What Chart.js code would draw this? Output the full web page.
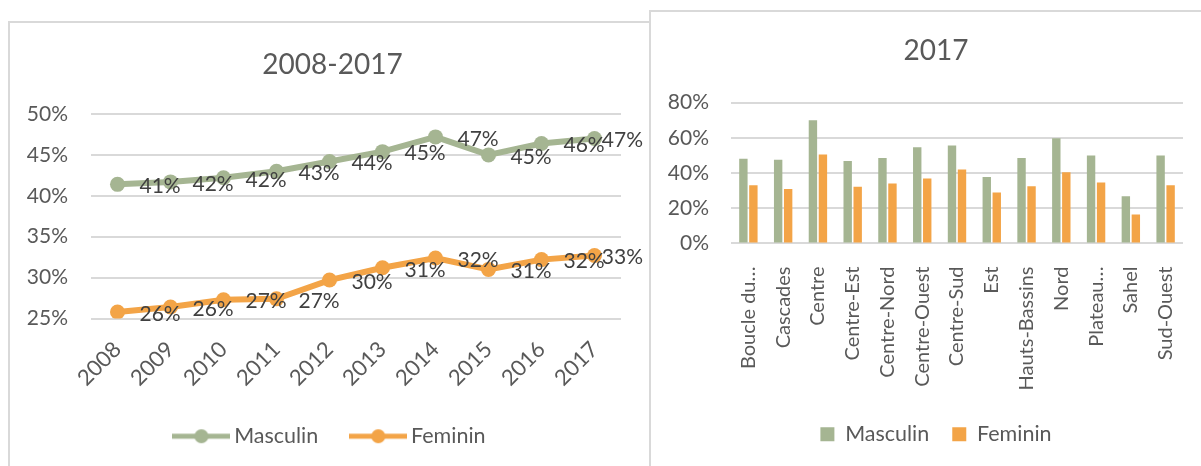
<!DOCTYPE html>
<html>
<head>
<meta charset="utf-8">
<script src="https://cdn.jsdelivr.net/npm/chart.js@4/dist/chart.umd.min.js"></script>
<style>
  html, body { margin: 0; padding: 0; background: #fff; overflow: hidden; }
  body { width: 1201px; height: 466px; position: relative; }
  .box { position: absolute; border: 2px solid #d9d9d9; box-sizing: border-box; background: #fff; }
  #boxLeft { left: 8px; top: 21px; width: 643px; height: 470px; }
  #boxRight { left: 649px; top: 10px; width: 600px; height: 480px; }
  canvas { display: block; }
</style>
</head>
<body>
<div class="box" id="boxLeft"><canvas id="lineChart" width="645" height="443"></canvas></div>
<div class="box" id="boxRight"><canvas id="barChart" width="570" height="454"></canvas></div>
<script>
// left chart: 2008-2017, taux en %
const years = ["2008", "2009", "2010", "2011", "2012", "2013", "2014", "2015", "2016", "2017"];
const masculinYears = [41.4, 41.7, 42.2, 43.0, 44.2, 45.4, 47.2, 45.0, 46.4, 47.0];
const femininYears = [25.8, 26.4, 27.3, 27.4, 29.7, 31.2, 32.4, 31.0, 32.2, 32.7];

// right chart: 2017 par région
const regions = ["Boucle du Mouhoun", "Cascades", "Centre", "Centre-Est", "Centre-Nord", "Centre-Ouest",
  "Centre-Sud", "Est", "Hauts-Bassins", "Nord", "Plateau Central", "Sahel", "Sud-Ouest"];
const masculin2017 = [48.1, 47.5, 70.0, 46.9, 48.6, 54.6, 55.6, 37.8, 48.6, 59.7, 49.9, 26.8, 49.9];
const feminin2017 = [33.1, 31.0, 50.5, 32.2, 34.0, 36.9, 42.0, 28.9, 32.5, 40.5, 34.6, 16.5, 33.1];

const GREEN = "#a5b592";
const ORANGE = "#f3a447";
const GRID = "#d9d9d9";
const TEXT = "#595959";

Chart.defaults.font.family = "Lato";
Chart.defaults.color = TEXT;
Chart.defaults.animation = false;

// legend marker: line with a dot, like the series
function lineMarker(color) {
  const c = document.createElement("canvas");
  c.width = 58;
  c.height = 16;
  const ctx = c.getContext("2d");
  ctx.strokeStyle = color;
  ctx.lineWidth = 5;
  ctx.beginPath();
  ctx.moveTo(0, 8);
  ctx.lineTo(58, 8);
  ctx.stroke();
  ctx.fillStyle = color;
  ctx.beginPath();
  ctx.arc(29, 8, 7, 0, Math.PI * 2);
  ctx.fill();
  return c;
}

// empty axis on the right, only to leave room like the original plot area
function spacer(width) {
  return {
    type: "linear",
    position: "right",
    grid: { display: false },
    border: { display: false },
    ticks: { display: false },
    afterFit(scale) { scale.width = width; },
  };
}

// value labels to the right of each point
const pointLabels = {
  id: "pointLabels",
  afterDatasetsDraw(chart) {
    const ctx = chart.ctx;
    const maxX = chart.chartArea.right + 22;
    ctx.save();
    ctx.font = "21px Lato";
    ctx.fillStyle = "#404040";
    ctx.textBaseline = "middle";
    ctx.textAlign = "left";
    chart.data.datasets.forEach((ds, i) => {
      chart.getDatasetMeta(i).data.forEach((pt, j) => {
        const txt = Math.round(ds.data[j]) + "%";
        const w = ctx.measureText(txt).width;
        let x = pt.x + 22;
        if (x + w > maxX) x = maxX - w;
        ctx.fillText(txt, x, pt.y + 2);
      });
    });
    ctx.restore();
  },
};

new Chart(document.getElementById("lineChart"), {
  type: "line",
  data: {
    labels: years,
    datasets: [
      {
        label: "Masculin",
        data: masculinYears,
        borderColor: GREEN,
        backgroundColor: GREEN,
        borderWidth: 6,
        pointRadius: 7.5,
        pointBorderWidth: 0,
      },
      {
        label: "Feminin",
        data: femininYears,
        borderColor: ORANGE,
        backgroundColor: ORANGE,
        borderWidth: 6,
        pointRadius: 7.5,
        pointBorderWidth: 0,
      },
    ],
  },
  options: {
    responsive: false,
    devicePixelRatio: 1,
    layout: { padding: { top: 0, right: 0, bottom: 9, left: 0 } },
    plugins: {
      title: {
        display: true,
        text: "2008-2017",
        font: { size: 28, weight: "normal" },
        padding: { top: 25, bottom: 32.4 },
      },
      legend: {
        position: "bottom",
        labels: {
          usePointStyle: true,
          pointStyleWidth: 44,
          padding: 38,
          font: { size: 21.5 },
          generateLabels(chart) {
            return chart.data.datasets.map((ds, i) => ({
              text: ds.label,
              pointStyle: lineMarker(ds.borderColor),
              fillStyle: ds.borderColor,
              strokeStyle: ds.borderColor,
              lineWidth: 0,
              fontColor: TEXT,
              datasetIndex: i,
            }));
          },
        },
      },
      tooltip: { enabled: false },
    },
    scales: {
      x: {
        offset: true,
        grid: { display: false },
        border: { display: false },
        ticks: { font: { size: 22 }, maxRotation: 45, minRotation: 45, padding: 10 },
        afterFit(scale) { scale.height = 69; },
      },
      y: {
        min: 25,
        max: 50,
        grid: { color: GRID, lineWidth: 2, drawTicks: false },
        border: { display: false },
        ticks: { stepSize: 5, font: { size: 21 }, padding: 23, callback: (v) => v + "%" },
        afterFit(scale) { scale.width = 81; },
      },
      yRight: spacer(34),
    },
  },
  plugins: [pointLabels],
});

new Chart(document.getElementById("barChart"), {
  type: "bar",
  data: {
    labels: regions,
    datasets: [
      { label: "Masculin", data: masculin2017, backgroundColor: GREEN },
      { label: "Feminin", data: feminin2017, backgroundColor: ORANGE },
    ],
  },
  options: {
    responsive: false,
    devicePixelRatio: 1,
    categoryPercentage: 0.575,
    barPercentage: 0.84,
    layout: { padding: { top: 0, right: 0, bottom: 11, left: 0 } },
    plugins: {
      title: {
        display: true,
        text: "2017",
        font: { size: 28, weight: "normal" },
        padding: { top: 22, bottom: 35 },
      },
      legend: {
        position: "bottom",
        labels: { boxWidth: 14, boxHeight: 14, padding: 23, font: { size: 21.5 } },
      },
      tooltip: { enabled: false },
    },
    scales: {
      x: {
        grid: { display: false },
        border: { display: false },
        ticks: {
          font: { size: 20 },
          maxRotation: 90,
          minRotation: 90,
          padding: 15,
          callback(v) {
            const s = regions[v];
            return s.length > 13 ? s.slice(0, 10).replace(/\s+\S*$/, "") + "…" : s;
          },
        },
        afterFit(scale) { scale.height = 157; },
      },
      y: {
        min: 0,
        max: 80,
        grid: { color: GRID, lineWidth: 2, drawTicks: false },
        border: { display: false },
        ticks: { stepSize: 20, font: { size: 21 }, padding: 22, callback: (v) => v + "%" },
        afterFit(scale) { scale.width = 80; },
      },
      yRight: spacer(38),
    },
  },
});
</script>
</body>
</html>
